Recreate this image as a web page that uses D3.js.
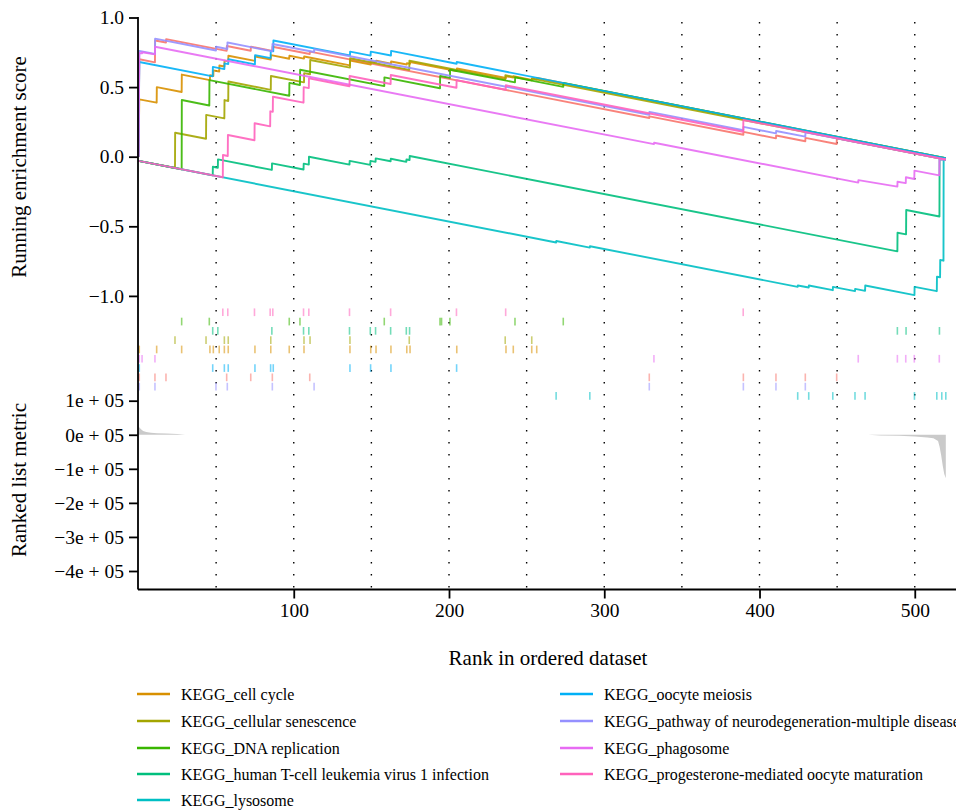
<!DOCTYPE html>
<html><head><meta charset="utf-8">
<script src="https://cdn.jsdelivr.net/npm/d3@7"></script>
<style>
body{margin:0;background:#fff}
svg{display:block}
text{font-family:"Liberation Serif","Times New Roman",serif;fill:#000}
</style>
</head><body>
<svg id="chart" width="956" height="812"></svg>
<script>
// ---------------- DATA ----------------
// running enrichment score curves: [rank, ES]
const esUnlabeled = [[0,0],[0.5,0.70],[10.6,0.678],[10.7,0.835],[17.7,0.82],[17.8,0.845],[56.8,0.76],[56.9,0.795],[72.3,0.761],[72.4,0.79],[86.2,0.76],[86.3,0.79],[110.3,0.738],[110.4,0.755],[329,0.278],[329.1,0.29],[389.6,0.158],[389.7,0.178],[410.6,0.132],[410.7,0.152],[429.5,0.111],[429.6,0.135],[449.7,0.091],[449.8,0.132],[520,-0.02]];
const esCellCycle = [[0,0],[0.5,0.412],[11.7,0.388],[11.8,0.50],[27.8,0.465],[27.9,0.59],[46,0.55],[46.1,0.585],[48.2,0.58],[48.3,0.62],[52,0.612],[52.1,0.655],[55.3,0.648],[55.4,0.69],[57.8,0.685],[57.9,0.725],[75,0.688],[75.1,0.72],[85.2,0.698],[85.3,0.73],[97.1,0.704],[97.2,0.725],[106.6,0.705],[106.7,0.72],[136.2,0.656],[136.3,0.69],[149.6,0.661],[149.7,0.685],[153,0.678],[153.1,0.69],[162.6,0.669],[162.7,0.684],[172.8,0.662],[172.9,0.672],[174.9,0.668],[175,0.68],[205,0.615],[205.1,0.634],[236.7,0.565],[236.8,0.578],[241.4,0.568],[241.5,0.578],[253.3,0.552],[253.4,0.562],[256.5,0.555],[256.6,0.565],[520,-0.01]];
const esSenescence = [[0,-0.03],[23.5,-0.081],[23.6,0.172],[43.5,0.129],[43.6,0.30],[55.3,0.275],[55.4,0.407],[57.8,0.40],[57.9,0.54],[85.2,0.48],[85.3,0.58],[106.6,0.534],[106.7,0.60],[110.5,0.592],[110.6,0.695],[136.2,0.64],[136.3,0.707],[174.4,0.624],[174.5,0.69],[236.2,0.555],[236.3,0.585],[253.3,0.548],[253.4,0.561],[520,-0.02]];
const esDNA = [[0,-0.03],[27.8,-0.09],[27.9,0.407],[45.6,0.368],[45.7,0.55],[97.1,0.438],[97.2,0.53],[104,0.515],[104.1,0.625],[158.3,0.507],[158.4,0.57],[194.2,0.492],[194.3,0.58],[200.6,0.566],[200.7,0.625],[242.5,0.534],[242.6,0.57],[273.6,0.502],[273.7,0.53],[520,-0.01]];
const esHumanT = [[0,-0.03],[47.8,-0.134],[47.9,-0.072],[51.1,-0.079],[51.2,-0.019],[85.9,-0.095],[86,-0.048],[106.3,-0.092],[106.4,-0.05],[109.7,-0.057],[109.8,0.0],[135.9,-0.057],[136,-0.03],[149.3,-0.059],[149.4,-0.03],[152.7,-0.037],[152.8,-0.012],[162.4,-0.033],[162.5,-0.015],[172.5,-0.037],[172.6,-0.02],[174.6,-0.024],[174.7,0.005],[488.8,-0.68],[488.9,-0.546],[494.4,-0.558],[494.5,-0.383],[515.9,-0.43],[516,-0.02],[520,-0.02]];
const esLysosome = [[0,-0.03],[269,-0.616],[269.1,-0.606],[290.7,-0.653],[290.8,-0.643],[424.6,-0.935],[424.7,-0.925],[431.7,-0.94],[431.8,-0.925],[447.2,-0.959],[447.3,-0.935],[461.5,-0.966],[461.6,-0.95],[468,-0.964],[468.1,-0.925],[499.8,-0.994],[499.9,-0.935],[514.2,-0.966],[514.3,-0.862],[516.3,-0.866],[516.4,-0.742],[518.5,-0.747],[518.6,-0.02],[520,-0.02]];
const esOocyte = [[0,0],[0.5,0.68],[47.8,0.577],[47.9,0.645],[55.3,0.629],[55.4,0.67],[57.8,0.665],[57.9,0.70],[75,0.663],[75.1,0.73],[85.1,0.708],[85.2,0.76],[86.8,0.757],[86.9,0.835],[136.2,0.728],[136.3,0.755],[149.5,0.726],[149.6,0.755],[162.6,0.727],[162.7,0.76],[204.9,0.668],[205,0.68],[520,-0.01]];
const esNeuro = [[0,0],[0.5,0.76],[10.6,0.738],[10.7,0.848],[49.9,0.763],[50,0.79],[57.2,0.774],[57.3,0.82],[86.2,0.757],[86.3,0.81],[113.1,0.752],[113.2,0.772],[329,0.301],[329.1,0.322],[389.6,0.19],[389.7,0.214],[410.6,0.168],[410.7,0.185],[429.5,0.144],[429.6,0.176],[520,-0.02]];
const esPhagosome = [[0,0],[0.5,0.745],[2.3,0.742],[2.4,0.75],[10.6,0.735],[10.7,0.79],[332,0.09],[332.1,0.10],[463.6,-0.186],[463.7,-0.168],[488.8,-0.215],[488.9,-0.18],[494.2,-0.19],[494.3,-0.148],[499.7,-0.16],[499.8,-0.10],[515.8,-0.134],[515.9,-0.02],[520,-0.02]];
const esProgesterone = [[0,-0.03],[54.3,-0.148],[54.4,0.012],[57.5,0.005],[57.6,0.156],[74.7,0.118],[74.8,0.24],[84.8,0.218],[84.9,0.326],[86.5,0.322],[86.6,0.431],[106.3,0.388],[106.4,0.50],[109.7,0.493],[109.8,0.563],[135.9,0.506],[136,0.58],[162.4,0.522],[162.5,0.587],[204.8,0.495],[204.9,0.55],[236.5,0.481],[236.6,0.513],[389.5,0.179],[389.6,0.264],[520,-0.02]];

// gene hit positions (ranks)
const hitsUnlabeled = [0.5,10.6,17.7,56.8,72.3,86.2,110.3,329,389.6,410.6,429.5,449.7];
const hitsCellCycle = [0.5,11.7,27.8,46,48.2,52,55.3,57.8,75,85.2,97.1,106.6,136.2,149.6,153,162.6,172.8,174.9,205,236.7,241.4,253.3,256.5];
const hitsSenescence = [23.5,43.5,55.3,57.8,85.2,106.6,110.5,136.2,174.4,236.2,253.3];
const hitsDNA = [27.8,45.6,97.1,104,158.3,194.2,195.2,200.6,242.5,273.6];
const hitsHumanT = [47.8,51.1,85.9,106.3,109.7,135.9,149.3,152.7,162.4,172.5,174.6,488.8,494.4,515.9];
const hitsLysosome = [269,290.7,424.6,431.7,447.2,461.5,468,499.8,514.2,517.4,520];
const hitsOocyte = [0.5,47.8,55.3,57.8,75,85.1,86.8,136.2,149.5,162.6,204.9];
const hitsNeuro = [0.5,10.6,49.9,57.2,86.2,113.1,329,389.6,410.6,429.5];
const hitsPhagosome = [0.5,2.3,10.6,332,463.6,488.8,494.2,499.7,515.8];
const hitsProgesterone = [54.3,57.5,74.7,84.8,86.5,106.3,109.7,135.9,162.4,204.8,236.5,389.5];

// ranked list metric
const metricRanks = [0,1,2,3,5,8,12,18,25,30,470,478,490,500,508,512,515,516,517,518,519,520];
const metricValues = [24000,19000,15000,11000,8000,6000,4500,3500,2000,0,0,-2000,-3000,-5000,-8000,-10000,-18000,-35000,-60000,-90000,-115000,-128000];

const setNames = ["", "KEGG_cell cycle","KEGG_cellular senescence","KEGG_DNA replication","KEGG_human T-cell leukemia virus 1 infection","KEGG_lysosome","KEGG_oocyte meiosis","KEGG_pathway of neurodegeneration-multiple diseases","KEGG_phagosome","KEGG_progesterone-mediated oocyte maturation"];
const setColors = ["#F8766D","#D89000","#A3A500","#39B600","#00BF7D","#00BFC4","#00B0F6","#9590FF","#E76BF3","#FF62BC"];
const curves = [esUnlabeled,esCellCycle,esSenescence,esDNA,esHumanT,esLysosome,esOocyte,esNeuro,esPhagosome,esProgesterone];
const hits = [hitsUnlabeled,hitsCellCycle,hitsSenescence,hitsDNA,hitsHumanT,hitsLysosome,hitsOocyte,hitsNeuro,hitsPhagosome,hitsProgesterone];
// row of the hit strip (top to bottom) for each set
const hitRows = [7,4,3,1,2,9,6,8,5,0];

const xTicks = [100,200,300,400,500];
const gridRanks = [50,100,150,200,250,300,350,400,450,500];
const esTicks = [1.0,0.5,0.0,-0.5,-1.0];
const metricTicks = [100000,0,-100000,-200000,-300000,-400000];
const metricTickLabels = ["1e + 05","0e + 05","\u22121e + 05","\u22122e + 05","\u22123e + 05","\u22124e + 05"];

// ---------------- DRAW ----------------
const svg = d3.select("#chart");
const x = d3.scaleLinear().domain([0, 527.4]).range([138.5, 957.3]);
const yES = d3.scaleLinear().domain([-1, 1]).range([295.9, 17.5]);
const yM = d3.scaleLinear().domain([-400000, 100000]).range([571, 400.7]);
const yRow = d3.scaleLinear().domain([0, 10]).range([307.6, 400.6]);
const axisX = 138;
const bottomY = 589.5;

// dotted vertical lines
svg.append("g").selectAll("line").data(gridRanks).join("line")
  .attr("x1", d => x(d)).attr("x2", d => x(d))
  .attr("y1", 22).attr("y2", bottomY)
  .attr("stroke", "#000").attr("stroke-width", 1.4)
  .attr("stroke-dasharray", "1.4,10.6");

// metric area
const area = d3.area().x((d,i) => x(metricRanks[i])).y0(yM(0)).y1(d => yM(d));
svg.append("path").datum(metricValues).attr("d", area)
  .attr("fill", "#cacaca").attr("stroke", "none");

// hit ticks
hits.forEach((hs, k) => {
  const r = hitRows[k];
  svg.append("g").selectAll("line").data(hs).join("line")
    .attr("x1", d => x(d)).attr("x2", d => x(d))
    .attr("y1", yRow(r) + 0.8).attr("y2", yRow(r + 1) - 0.8)
    .attr("stroke", setColors[k]).attr("stroke-width", 1.6).attr("stroke-opacity", 0.55);
});

// ES curves
const line = d3.line().x(d => x(d[0])).y(d => yES(d[1]));
curves.forEach((c, k) => {
  svg.append("path").datum(c).attr("d", line)
    .attr("fill", "none").attr("stroke", setColors[k]).attr("stroke-opacity", 0.9)
    .attr("stroke-width", 1.9).attr("stroke-linejoin", "round");
});

// axes lines
svg.append("line").attr("x1", axisX).attr("x2", axisX).attr("y1", 17).attr("y2", bottomY)
  .attr("stroke", "#000").attr("stroke-width", 1.8);
svg.append("line").attr("x1", axisX).attr("x2", 956).attr("y1", bottomY).attr("y2", bottomY)
  .attr("stroke", "#000").attr("stroke-width", 1.8);

const fmtES = d3.format(".1f");
const gES = svg.append("g").attr("transform", `translate(${axisX},0)`)
  .call(d3.axisLeft(yES).tickValues(esTicks).tickFormat(d => fmtES(d)).tickSize(9).tickPadding(5));
const gM = svg.append("g").attr("transform", `translate(${axisX},0)`)
  .call(d3.axisLeft(yM).tickValues(metricTicks).tickFormat((d,i) => metricTickLabels[i]).tickSize(9).tickPadding(5));
const gX = svg.append("g").attr("transform", `translate(0,${bottomY})`)
  .call(d3.axisBottom(x).tickValues(xTicks).tickFormat(d3.format("d")).tickSize(9).tickPadding(5));
[gES, gM, gX].forEach(g => {
  g.select(".domain").remove();
  g.selectAll(".tick line").attr("stroke", "#000").attr("stroke-width", 1.8);
  g.selectAll(".tick text").attr("font-family", "Liberation Serif, serif").attr("font-size", 19.5).attr("fill", "#000");
});

// axis titles
svg.append("text").attr("transform", "translate(26,167) rotate(-90)")
  .attr("text-anchor", "middle").attr("font-size", 21).text("Running enrichment score");
svg.append("text").attr("transform", "translate(26,480) rotate(-90)")
  .attr("text-anchor", "middle").attr("font-size", 21).text("Ranked list metric");
svg.append("text").attr("x", 548).attr("y", 665)
  .attr("text-anchor", "middle").attr("font-size", 21).text("Rank in ordered dataset");

// legend (9 labelled sets)
const legendItems = d3.range(1, 10);
const legRowY = [694, 721, 748, 774, 800];
const lg = svg.append("g");
legendItems.forEach((k, i) => {
  const col = i < 5 ? 0 : 1;
  const row = i < 5 ? i : i - 5;
  const lx = col === 0 ? 137 : 560;
  const ly = legRowY[row];
  lg.append("line").attr("x1", lx).attr("x2", lx + 33).attr("y1", ly).attr("y2", ly)
    .attr("stroke", setColors[k]).attr("stroke-width", 2.6);
  lg.append("text").attr("x", lx + 44).attr("y", ly + 5.5)
    .attr("font-size", 16).text(setNames[k]);
});
</script>
</body></html>
